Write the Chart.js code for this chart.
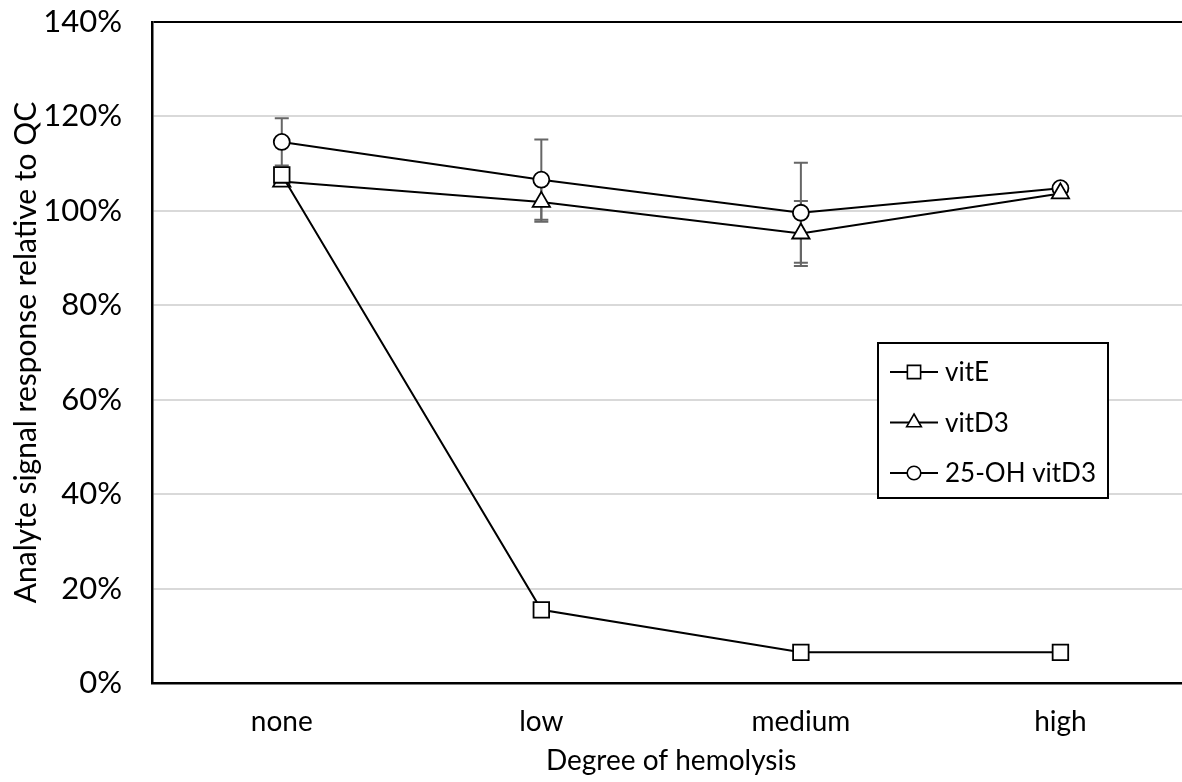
<!DOCTYPE html>
<html>
<head>
<meta charset="utf-8">
<script src="https://cdn.jsdelivr.net/npm/chart.js@4"></script>
<style>
  html, body { margin: 0; padding: 0; background: #fff; overflow: hidden; }
</style>
</head>
<body>
<canvas id="myChart" width="1203" height="782"></canvas>
<script>
const categories = ["none", "low", "medium", "high"];
const vitE = [107.6, 15.5, 6.5, 6.5];
const vitD3 = [106.2, 101.9, 95.2, 103.7];
const ohVitD3 = [114.6, 106.6, 99.6, 104.8];
const vitD3Err = [0, 4.2, 6.9, 0];
const ohVitD3Err = [5, 8.5, 10.6, 0];
const yTicks = [0, 20, 40, 60, 80, 100, 120, 140];

const FONT = "Lato, 'Open Sans', sans-serif";
const markerSize = { rect: 11, triangle: 10, circle: 8 };

// error bars, drawn under the markers
const errorBars = {
  id: "errorBars",
  beforeDatasetsDraw(chart) {
    const { ctx, scales } = chart;
    const pairs = [[vitD3, vitD3Err], [ohVitD3, ohVitD3Err]];
    ctx.save();
    ctx.strokeStyle = "#666";
    ctx.lineWidth = 2;
    pairs.forEach(([vals, errs]) => {
      vals.forEach((v, i) => {
        if (!errs[i]) return;
        const x = scales.x.getPixelForValue(i);
        const top = scales.y.getPixelForValue(v + errs[i]);
        const bot = scales.y.getPixelForValue(v - errs[i]);
        ctx.beginPath();
        ctx.moveTo(x, top); ctx.lineTo(x, bot);
        ctx.moveTo(x - 7, top); ctx.lineTo(x + 7, top);
        ctx.moveTo(x - 7, bot); ctx.lineTo(x + 7, bot);
        ctx.stroke();
      });
    });
    ctx.restore();
  }
};

// boxed legend inside the plot
const boxLegend = {
  id: "boxLegend",
  afterDraw(chart) {
    const { ctx, chartArea } = chart;
    const left = chartArea.left + 726, top = 343, w = 230, h = 155;
    ctx.save();
    ctx.fillStyle = "#fff";
    ctx.fillRect(left, top, w, h);
    ctx.strokeStyle = "#000";
    ctx.lineWidth = 2;
    ctx.strokeRect(left, top, w, h);
    ctx.font = "26px " + FONT;
    ctx.textBaseline = "middle";
    chart.data.datasets.forEach((ds, i) => {
      const y = top + 29 + i * 50.5;
      ctx.strokeStyle = "#000";
      ctx.lineWidth = 1.8;
      ctx.beginPath();
      ctx.moveTo(left + 12, y); ctx.lineTo(left + 60, y);
      ctx.stroke();
      ctx.fillStyle = "#fff";
      ctx.lineWidth = 1.6;
      Chart.helpers.drawPoint(ctx, { pointStyle: ds.pointStyle, radius: markerSize[ds.pointStyle] * 0.85, rotation: 0 }, left + 36, y);
      ctx.fill();
      ctx.stroke();
      ctx.fillStyle = "#000";
      ctx.fillText(ds.label, left + 67, y + 1);
    });
    ctx.restore();
  }
};

const mk = (label, data, style) => ({
  label, data,
  borderColor: "#000",
  borderWidth: 2,
  pointStyle: style,
  pointRadius: markerSize[style],
  pointBackgroundColor: "#fff",
  pointBorderColor: "#000",
  pointBorderWidth: 1.8,
  tension: 0
});

new Chart(document.getElementById("myChart"), {
  type: "line",
  data: {
    labels: categories,
    datasets: [
      mk("vitE", vitE, "rect"),
      mk("vitD3", vitD3, "triangle"),
      mk("25-OH vitD3", ohVitD3, "circle")
    ]
  },
  plugins: [errorBars, boxLegend],
  options: {
    responsive: false,
    animation: false,
    layout: { padding: { top: 22, right: 0, bottom: 0, left: 0 } },
    plugins: { legend: { display: false }, tooltip: { enabled: false } },
    scales: {
      x: {
        offset: true,
        afterFit: axis => { axis.height = 99; axis.paddingLeft = 0; axis.paddingRight = 0; },
        grid: { display: false, drawTicks: false },
        border: { color: "#000", width: 2.5 },
        ticks: { color: "#000", font: { family: FONT, size: 28 }, padding: 22 },
        title: { display: true, text: "Degree of hemolysis", color: "#000", font: { family: FONT, size: 28 }, padding: { top: 14 } }
      },
      y: {
        min: 0, max: 140,
        afterBuildTicks: axis => { axis.ticks = yTicks.map(v => ({ value: v })); },
        afterFit: axis => { axis.width = 152; axis.paddingTop = 0; axis.paddingBottom = 0; },
        grid: {
          drawTicks: false,
          lineWidth: 2,
          color: c => c.tick && c.tick.value === 140 ? "#000" : "#d9d9d9"
        },
        border: { color: "#000", width: 2.5 },
        ticks: { color: "#000", font: { family: FONT, size: 31 }, padding: 30, callback: v => v + "%" },
        title: { display: true, text: "Analyte signal response relative to QC", color: "#000", font: { family: FONT, size: 30 }, padding: { top: 8, bottom: 0 } }
      }
    }
  }
});
</script>
</body>
</html>
